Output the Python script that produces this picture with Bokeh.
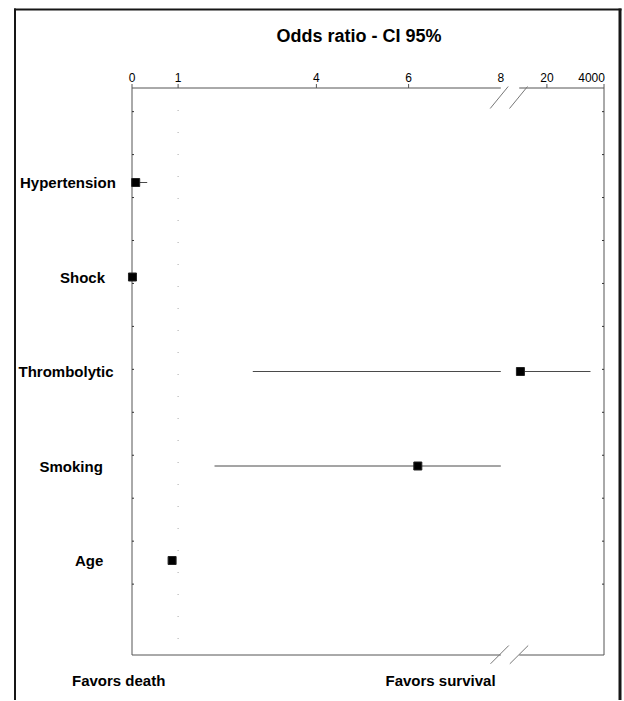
import math
import numpy as np
from bokeh.plotting import figure
from bokeh.models import Range1d
from bokeh.core.properties import value
from bokeh.embed import file_html
from bokeh.resources import INLINE

# ---------------- data ----------------
FACTORS = ["Hypertension", "Shock", "Thrombolytic", "Smoking", "Age"]
ODDS = [0.08, 0.01, 10.3, 6.2, 0.87]
CI_LOW = [0.0, 0.0, 2.62, 1.79, 0.86]
CI_HIGH = [0.33, 0.04, 3500.0, 9.0, 0.88]

TICK_VALUES = [0, 1, 4, 6, 8, 20, 4000]
TICK_LABELS = ["0", "1", "4", "6", "8", "20", "4000"]
TICK_MARKED = [1, 4, 6, 20]
REF_VALUE = 1

# broken axis: linear 0..8, gap, then log pieces
SCALE_VALUES = [0, 8, 10, 20, 4000]
SCALE_POS = [0.0, 8.0, 8.4, 9.0, 9.97]
BREAK_LO, BREAK_HI = 8, 10
N_ROWS = len(FACTORS)


def axis_pos(v):
    if v <= SCALE_VALUES[1]:
        return SCALE_POS[0] + (v - SCALE_VALUES[0]) / (SCALE_VALUES[1] - SCALE_VALUES[0]) * (SCALE_POS[1] - SCALE_POS[0])
    if v < BREAK_HI:
        return SCALE_POS[1]
    for i in range(2, len(SCALE_VALUES) - 1):
        a, b = SCALE_VALUES[i], SCALE_VALUES[i + 1]
        if v <= b or i == len(SCALE_VALUES) - 2:
            t = math.log(v / a) / math.log(b / a)
            return SCALE_POS[i] + t * (SCALE_POS[i + 1] - SCALE_POS[i])


# ---------------- layout (page pixels) ----------------
PAGE_X0, PAGE_Y0 = 0, 0
W, H = 622, 700
BOX_L, BOX_R, BOX_T, BOX_B = 131.5, 603.5, 87.5, 654.5
PXU_X = 46.1
PXU_Y = (BOX_B - BOX_T) / (N_ROWS + 1)


def dx(px):
    return (px - BOX_L) / PXU_X


def dy(py):
    return (BOX_B - py) / PXU_Y


X_RIGHT = dx(BOX_R)
Y_TOP = N_ROWS + 1
TICK_UP = 4 / PXU_Y
SIDE_TICK = 2 / PXU_X

FONT = "Liberation Sans"
BOX_GRAY = "#555555"
BORDER = "#161616"

p = figure(width=W, height=H, output_backend="svg", toolbar_location=None,
           x_range=Range1d(dx(PAGE_X0), dx(PAGE_X0 + W)),
           y_range=Range1d(dy(PAGE_Y0 + H), dy(PAGE_Y0)),
           x_axis_type=None, y_axis_type=None, min_border=0)
p.grid.visible = False
p.outline_line_color = None
p.background_fill_color = "white"
p.border_fill_color = "white"

# outer frame (left, top, right)
p.segment(x0=[dx(14.5)], y0=[dy(701)], x1=[dx(14.5)], y1=[dy(8)], line_color=BORDER, line_width=2)
p.segment(x0=[dx(13.5)], y0=[dy(9)], x1=[dx(621)], y1=[dy(9)], line_color=BORDER, line_width=2)
p.segment(x0=[dx(619.5)], y0=[dy(8)], x1=[dx(619.5)], y1=[dy(701)], line_color=BORDER, line_width=3)

# plot box: sides (extending up like ticks), top/bottom with a gap at the break
p.segment(x0=[0, X_RIGHT], y0=[0, 0], x1=[0, X_RIGHT], y1=[Y_TOP + TICK_UP] * 2,
          line_color=BOX_GRAY, line_width=1)
gx0 = [0, axis_pos(BREAK_HI), 0, axis_pos(BREAK_HI)]
gx1 = [axis_pos(BREAK_LO), X_RIGHT, axis_pos(BREAK_LO), X_RIGHT]
gy = [Y_TOP, Y_TOP, 0, 0]
p.segment(x0=gx0, y0=gy, x1=gx1, y1=gy, line_color=BOX_GRAY, line_width=1)

# top tick marks and labels
mk = [axis_pos(v) for v in TICK_MARKED]
p.segment(x0=mk, y0=[Y_TOP] * len(mk), x1=mk, y1=[Y_TOP + TICK_UP] * len(mk),
          line_color=BOX_GRAY, line_width=1)
p.text(x=[axis_pos(v) for v in TICK_VALUES], y=[dy(77.2)] * len(TICK_VALUES), text=TICK_LABELS,
       text_font=value(FONT), text_font_size="12px", text_align="center",
       text_baseline="middle", text_color="black")

# small inner ticks on the box sides
side = list(np.linspace(0.75, 5.75, 12))
p.segment(x0=[0] * len(side), y0=side, x1=[SIDE_TICK] * len(side), y1=side,
          line_color="#333333", line_width=1)
p.segment(x0=[X_RIGHT] * len(side), y0=side, x1=[X_RIGHT - SIDE_TICK] * len(side), y1=side,
          line_color="#333333", line_width=1)

# break slashes (top and bottom)
sl = [(489.7, 108, 507.7, 86), (509, 108, 527, 86),
      (490, 663.3, 508.3, 645), (509.3, 663.3, 527.7, 645)]
p.segment(x0=[dx(a) for a, b, c, d in sl], y0=[dy(b) for a, b, c, d in sl],
          x1=[dx(c) for a, b, c, d in sl], y1=[dy(d) for a, b, c, d in sl],
          line_color="#777777", line_width=1)

# reference line at OR = 1
p.line(x=[axis_pos(REF_VALUE)] * 2, y=[Y_TOP, 0], line_color="#a8a8a8", line_width=1, line_dash="1 21")

# CI lines (split at the break)
rows = [N_ROWS - i for i in range(N_ROWS)]
sx0, sx1, sy = [], [], []
for lo, hi, r in zip(CI_LOW, CI_HIGH, rows):
    if lo < BREAK_LO:
        sx0.append(axis_pos(lo)); sx1.append(axis_pos(min(hi, BREAK_LO))); sy.append(r)
    if hi > BREAK_HI:
        sx0.append(axis_pos(max(lo, BREAK_HI))); sx1.append(axis_pos(hi)); sy.append(r)
p.segment(x0=sx0, y0=sy, x1=sx1, y1=sy, line_color="#4a4a4a", line_width=1)

p.scatter(x=[axis_pos(v) for v in ODDS], y=rows, marker="square", size=8,
          fill_color="black", line_color="#222222")

# row labels
LABEL_LEFT_PX = [19.5, 59.5, 18, 39, 74.5]
p.text(x=[dx(v) for v in LABEL_LEFT_PX], y=rows, text=FACTORS, text_font=value(FONT),
       text_font_size="15px", text_font_style="bold", text_align="left",
       text_baseline="middle", text_color="black")

# title and footers
p.text(x=[dx(276)], y=[dy(35.5)], text=["Odds ratio - CI 95%"], text_font=value(FONT),
       text_font_size="18px", text_font_style="bold", text_align="left",
       text_baseline="middle", text_color="black")
p.text(x=[dx(71.5), dx(385)], y=[dy(680)] * 2, text=["Favors death", "Favors survival"],
       text_font=value(FONT), text_font_size="15px", text_font_style="bold",
       text_align="left", text_baseline="middle", text_color="black")

open("out.html", "w").write(file_html(p, INLINE))
